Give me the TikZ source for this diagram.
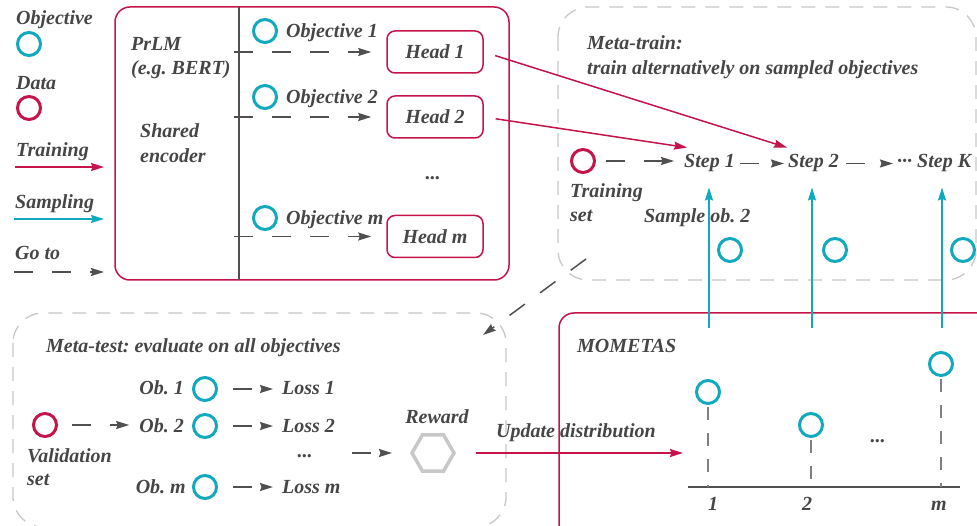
\documentclass[tikz,border=0pt]{standalone}
\usepackage{fontspec}
\setmainfont{Liberation Serif}
\usepackage{tikz}
\usetikzlibrary{arrows.meta}
\usetikzlibrary{shapes.geometric}
\definecolor{datared}{RGB}{196,20,74}
\definecolor{objteal}{RGB}{18,168,190}
\definecolor{txtgray}{RGB}{70,70,70}
\definecolor{boxgray}{RGB}{200,200,200}
\definecolor{arrgray}{RGB}{80,80,80}
\tikzset{lbl/.style = {font = \bfseries\itshape\fontsize{20}{22}\selectfont, text = txtgray, inner sep = 1pt}}
\tikzset{objc/.style = {circle, draw = objteal, line width = 3pt, minimum size = 23pt, inner sep = 0}}
\tikzset{datac/.style = {circle, draw = datared, line width = 3pt, minimum size = 23pt, inner sep = 0}}
\tikzset{headbox/.style = {lbl, draw = datared, line width = 1.5pt, rounded corners = 8pt, minimum width = 96pt, minimum height = 42pt}}
\tikzset{train/.style = {draw = datared, line width = 1.5pt, -{Stealth[length = 13pt, width = 8pt, inset = 1.5pt]}}}
\tikzset{samp/.style = {draw = objteal, line width = 1.5pt, -{Stealth[length = 13pt, width = 8pt, inset = 1.5pt]}}}
\tikzset{goto/.style = {draw = arrgray, line width = 1.5pt, dash pattern = on 19pt off 19pt, -{Stealth[length = 13pt, width = 8pt, inset = 1.5pt]}}}
\tikzset{encbox/.style = {draw = datared, line width = 1.5pt, rounded corners = 15pt}}
\tikzset{metabox/.style = {draw = boxgray, line width = 1.3pt, dash pattern = on 14pt off 10pt, rounded corners = 30pt}}
\tikzset{stem/.style = {draw = gray, line width = 1.2pt, dash pattern = on 13pt off 13pt}}
\frenchspacing
\begin{document}
\begin{tikzpicture}[x = 1pt, y = -1pt]
    \useasboundingbox (0, 0) rectangle (977, 526);

    % legend
    \node [lbl, anchor = base west] (legobj) at (15, 25) {Objective};
    \node [objc] (legobjc) at (29, 44) {};
    \node [lbl, anchor = base west] (legdata) at (15, 90) {Data};
    \node [datac] (legdatac) at (29, 108) {};
    \node [lbl, anchor = base west] (legtrain) at (15, 157) {Training};
    \coordinate (legtra) at (15, 167);
    \coordinate (legtrb) at (104, 167);
    \draw [train] (legtra) -- (legtrb);
    \node [lbl, anchor = base west] (legsamp) at (14, 209) {Sampling};
    \coordinate (legsaa) at (14, 219);
    \coordinate (legsab) at (104, 219);
    \draw [samp] (legsaa) -- (legsab);
    \node [lbl, anchor = base west] (leggoto) at (14, 260) {Go to};
    \coordinate (leggoa) at (14, 272);
    \coordinate (leggob) at (104, 272);
    \draw [goto] (leggoa) -- (leggob);

    % shared encoder and heads
    \draw [encbox] (115, 7) rectangle (509, 280);
    \draw [arrgray, line width = 1.3pt] (239, 7) -- (239, 280);
    \node [lbl, anchor = base west] (prlm) at (130, 51) {PrLM};
    \node [lbl, anchor = base west] (bert) at (130, 75) {(e.g. BERT)};
    \node [lbl, anchor = base west] (shared) at (139, 138) {Shared};
    \node [lbl, anchor = base west] (encoder) at (139, 163) {encoder};

    \node [objc] (obj1) at (265, 31) {};
    \node [lbl, anchor = base west] (obj1l) at (285, 38) {Objective 1};
    \node [objc] (obj2) at (265, 97) {};
    \node [lbl, anchor = base west] (obj2l) at (285, 104) {Objective 2};
    \node [objc] (objm) at (265, 218) {};
    \node [lbl, anchor = base west] (objml) at (285, 225) {Objective m};

    \node [headbox] (head1) at (435, 52) {Head 1};
    \node [headbox] (head2) at (435, 117) {Head 2};
    \node [headbox] (headm) at (435, 236.5) {Head m};
    \node [lbl] (headdots) at (433, 178) {...};

    \coordinate (enc1) at (234, 52);
    \coordinate (enc2) at (234, 117);
    \coordinate (encm) at (234, 236.5);
    \draw [goto, shorten > = 15pt] (enc1) -- (head1.west);
    \draw [goto, shorten > = 15pt] (enc2) -- (head2.west);
    \draw [goto, shorten > = 15pt] (encm) -- (headm.west);

    % meta-train
    \draw [metabox] (558, 7) rectangle (976, 280);
    \node [lbl, anchor = base west] (mtrain) at (586, 50) {Meta-train:};
    \node [lbl, anchor = base west] (mtrainb) at (586, 75) {train alternatively on sampled objectives};
    \node [datac] (trainset) at (583, 161) {};
    \node [lbl, anchor = base west] (trainl) at (569, 198) {Training};
    \node [lbl, anchor = base west] (trainlb) at (569, 222) {set};
    \node [lbl, anchor = base west] (step1) at (683, 168) {Step 1};
    \node [lbl, anchor = base west] (step2) at (787, 168) {Step 2};
    \node [lbl, anchor = base west] (stepk) at (896, 168) {\textperiodcentered\textperiodcentered\textperiodcentered\ Step K};
    \draw [goto, shorten < = 10pt, shorten > = 9pt] (trainset.east) -- (trainset.east -| step1.west);
    \draw [goto, shorten < = 4pt, shorten > = 3pt] (step1.east) -- (step1.east -| step2.west);
    \draw [goto, shorten < = 6pt, shorten > = 3pt] (step2.east) -- (step2.east -| stepk.west);

    \draw [train, shorten < = 12pt] (head1.east) -- ([yshift = 6pt]step2.north west);
    \draw [train, shorten < = 12pt] (head2.east) -- ([xshift = 4pt, yshift = 6pt]step1.north west);

    \node [lbl, anchor = base west] (sampl) at (643, 223) {Sample ob. 2};
    \node [objc] (samp1) at (730, 250) {};
    \node [objc] (samp2) at (835, 250) {};
    \node [objc] (sampk) at (963, 250) {};

    % go to meta-test
    \coordinate (trainout) at (586, 259);
    \coordinate (testin) at (483, 335);
    \draw [goto] (trainout) -- (testin);

    % meta-test
    \draw [metabox] (13, 313) rectangle (506, 527);
    \node [lbl, anchor = base west] (mtest) at (45, 353) {Meta-test: evaluate on all objectives};
    \node [datac] (valset) at (45, 425) {};
    \node [lbl, anchor = base west] (vall) at (26, 462) {Validation};
    \node [lbl, anchor = base west] (vallb) at (26, 485) {set};

    \node [objc] (ob1) at (205, 389) {};
    \node [objc] (ob2) at (205, 426) {};
    \node [objc] (obm) at (205, 487) {};
    \node [lbl, anchor = base east] (ob1l) at (185, 395) {Ob. 1};
    \node [lbl, anchor = base east] (ob2l) at (185, 432) {Ob. 2};
    \node [lbl, anchor = base east] (obml) at (187, 493) {Ob. m};
    \node [lbl, anchor = base west] (loss1) at (281, 395) {Loss 1};
    \node [lbl, anchor = base west] (loss2) at (281, 432) {Loss 2};
    \node [lbl, anchor = base west] (lossm) at (281, 493) {Loss m};
    \node [lbl] (lossdots) at (305, 456) {...};

    \draw [goto, shorten < = 14pt, shorten > = 9pt] (valset.east) -- (valset.east -| ob2l.west);
    \draw [goto, shorten < = 15pt, shorten > = 8pt] (ob1.east) -- (ob1.east -| loss1.west);
    \draw [goto, shorten < = 15pt, shorten > = 8pt] (ob2.east) -- (ob2.east -| loss2.west);
    \draw [goto, shorten < = 15pt, shorten > = 8pt] (obm.east) -- (obm.east -| lossm.west);

    \node [regular polygon, regular polygon sides = 6, draw = boxgray, line width = 3.5pt, minimum size = 42pt, inner sep = 0] (rewardhex) at (433, 453) {};
    \node [lbl, anchor = base] (reward) at (437, 423) {Reward};
    \coordinate (lossout) at (352, 453);
    \draw [goto, shorten > = 18pt] (lossout) -- (rewardhex.west);

    % MOMETAS
    \draw [encbox] (559, 313) rectangle (995, 545);
    \node [lbl, anchor = base west] (mometas) at (576, 353) {MOMETAS};
    \coordinate (distin) at (683, 453);
    \draw [train, shorten < = 20pt] (rewardhex.east) -- (distin);
    \node [lbl, anchor = base west] (updl) at (495, 437) {Update distribution};

    \coordinate (axisl) at (688, 487);
    \coordinate (axisr) at (960, 487);
    \draw [arrgray, line width = 1.5pt] (axisl) -- (axisr);
    \node [objc] (p1) at (708, 392) {};
    \node [objc] (p2) at (811, 425) {};
    \node [objc] (pm) at (941, 364) {};
    \draw [stem, shorten < = 2pt] (p1.south) -- (p1.south |- axisl);
    \draw [stem, shorten < = 2pt] (p2.south) -- (p2.south |- axisl);
    \draw [stem, shorten < = 2pt] (pm.south) -- (pm.south |- axisl);
    \node [lbl] (pdots) at (878, 441) {...};
    \node [lbl, anchor = base] (x1) at (713, 510) {1};
    \node [lbl, anchor = base] (x2) at (807, 510) {2};
    \node [lbl, anchor = base] (xm) at (939, 510) {m};

    \coordinate (p1top) at (709, 328);
    \coordinate (p2top) at (812, 328);
    \coordinate (pmtop) at (942, 328);
    \draw [samp, shorten > = 14pt] (p1top) -- (p1top |- step1.south);
    \draw [samp, shorten > = 14pt] (p2top) -- (p2top |- step2.south);
    \draw [samp, shorten > = 14pt] (pmtop) -- (pmtop |- stepk.south);
  \end{tikzpicture}
\end{document}
